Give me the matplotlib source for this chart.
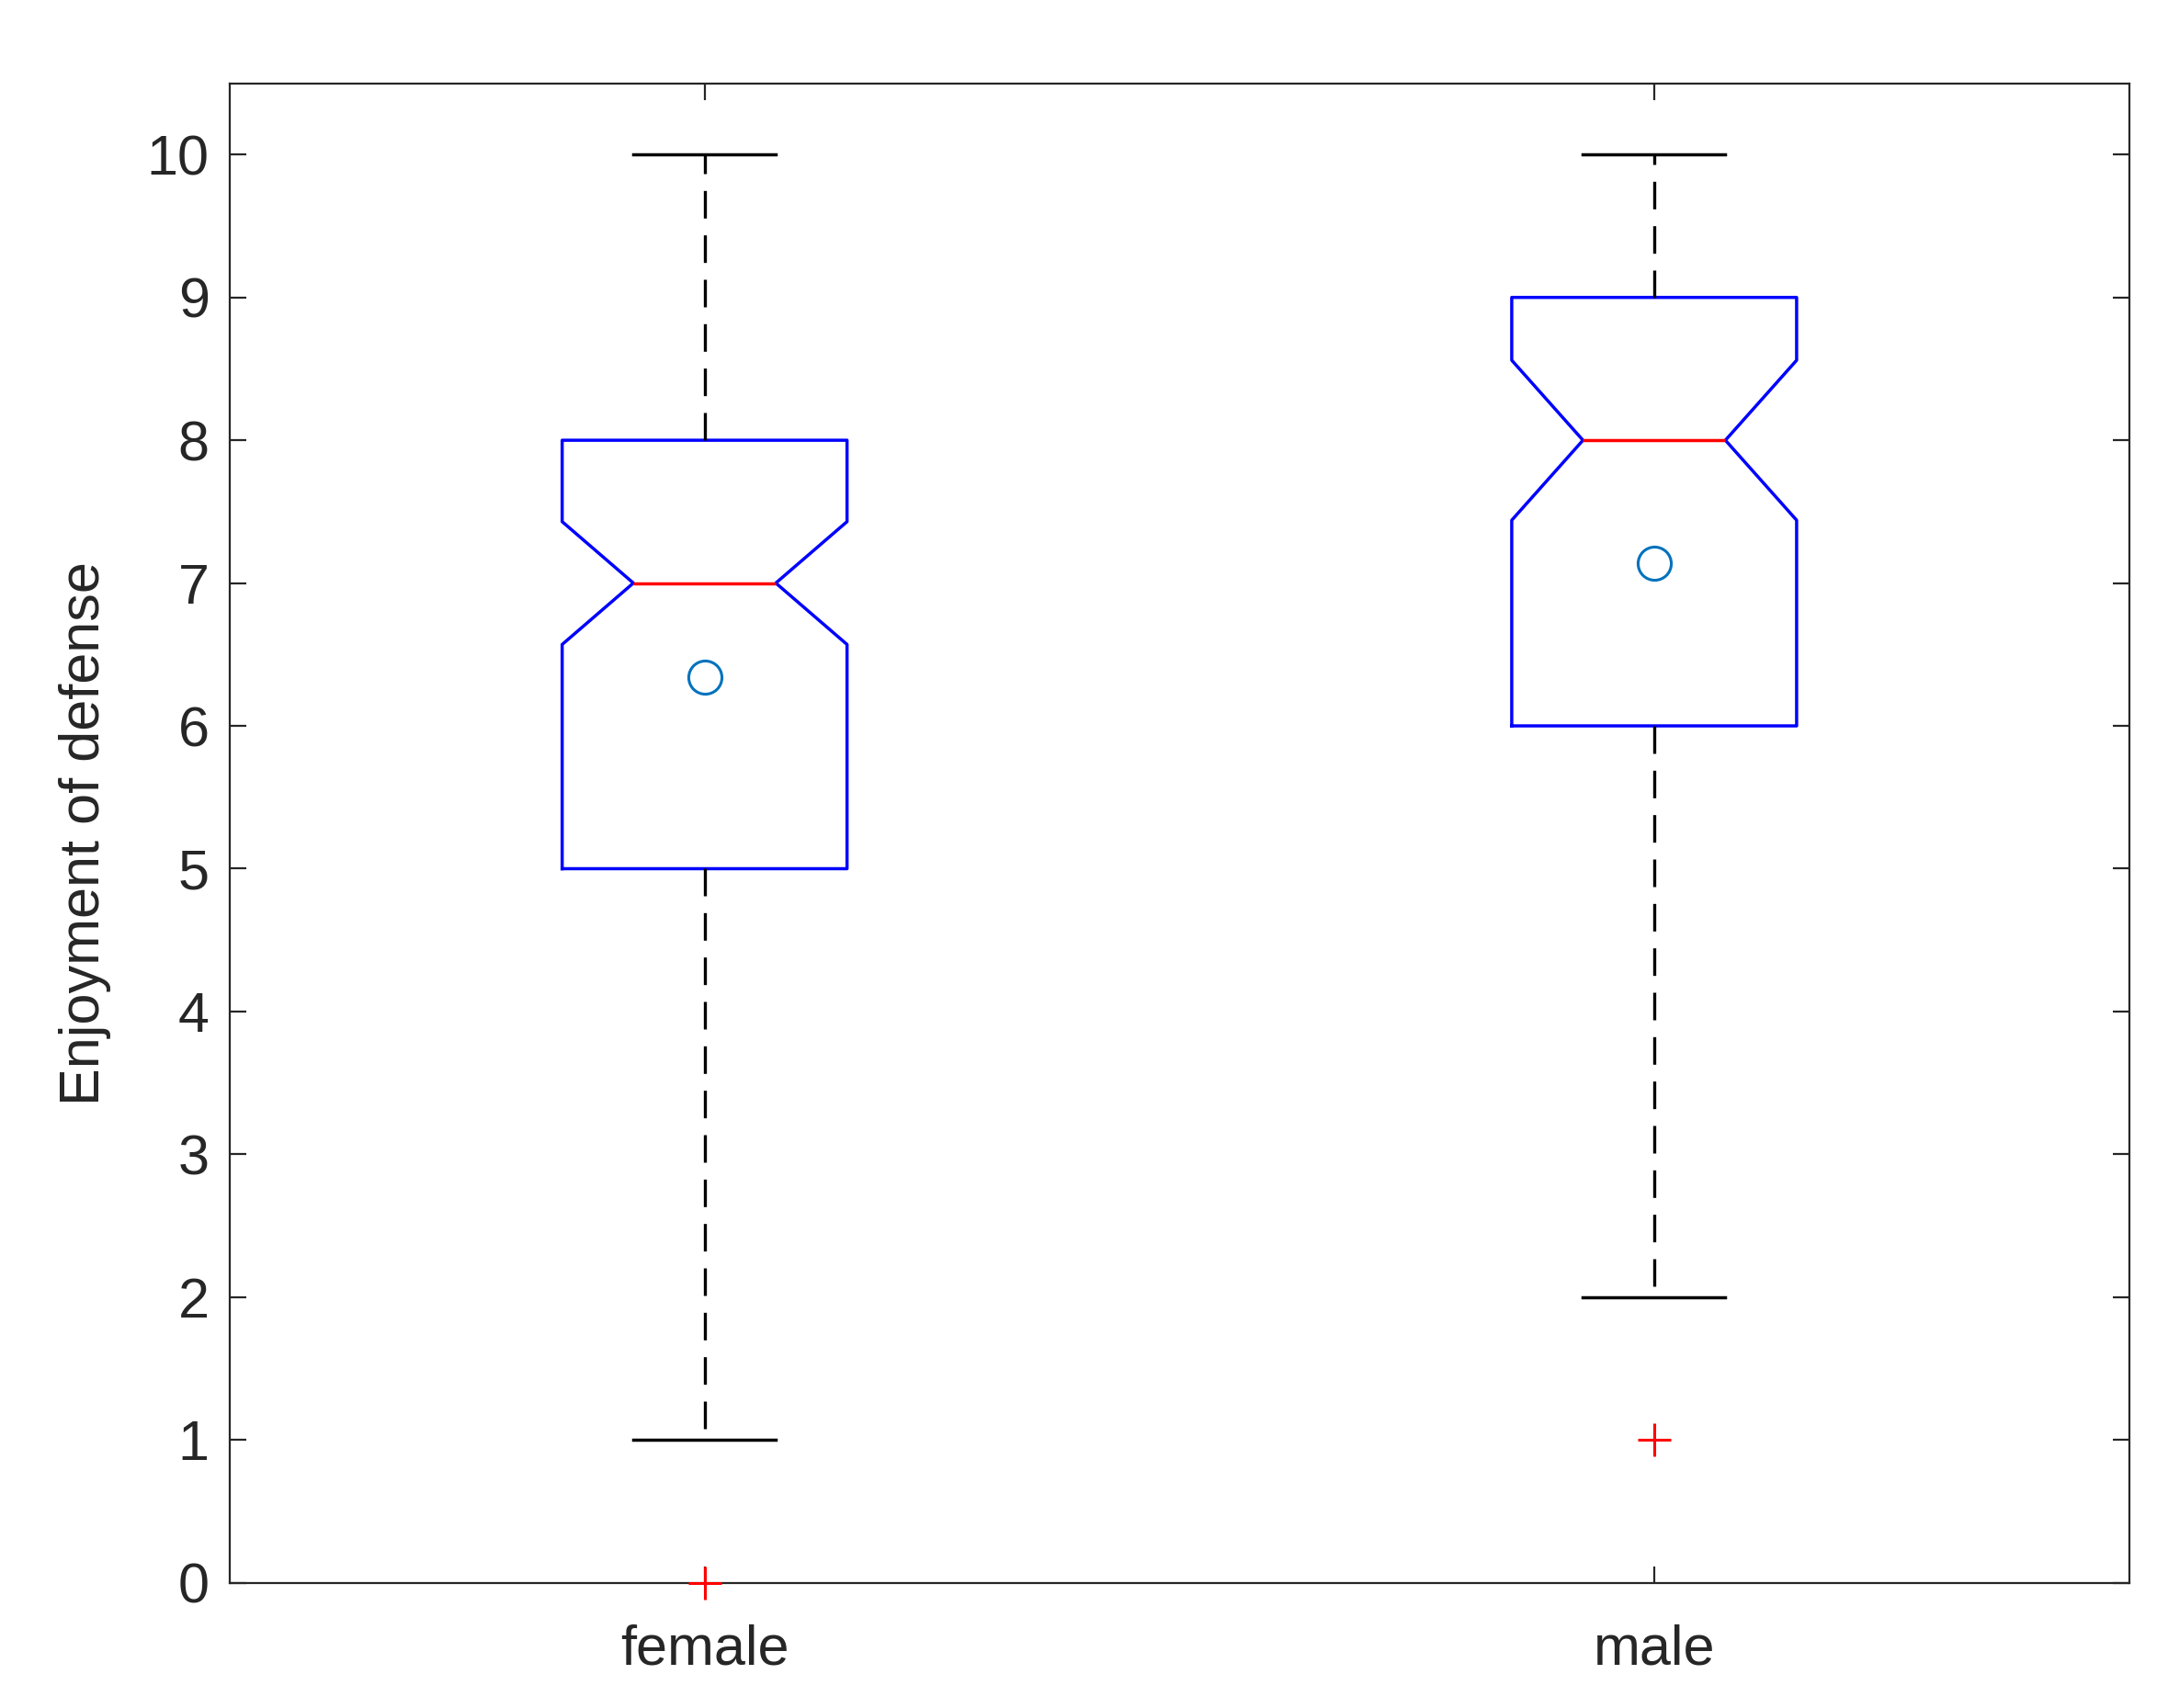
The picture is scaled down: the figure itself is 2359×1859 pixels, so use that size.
import matplotlib
matplotlib.use('Agg')
import matplotlib.pyplot as plt

# Values (notched boxplot, MATLAB style)
GROUPS = ['female', 'male']
POSITIONS = [1, 2]
MEDIANS = [7.0, 8.0]
Q1 = [5.0, 6.0]
Q3 = [8.0, 9.0]
WHISK_LO = [1.0, 2.0]
WHISK_HI = [10.0, 10.0]
NOTCH_LO = [6.57, 7.44]
NOTCH_HI = [7.43, 8.56]
MEANS = [6.34, 7.14]
OUTLIERS = [[0.0], [1.0]]

AX_COLOR = '#262626'
plt.rcParams['font.family'] = ['Liberation Sans', 'DejaVu Sans']

fig = plt.figure(figsize=(11.795, 9.295), dpi=200)
ax = fig.add_axes([0.106, 0.0733, 0.876, 0.878])

stats = []
for i, g in enumerate(GROUPS):
    stats.append({
        'label': g, 'med': MEDIANS[i], 'q1': Q1[i], 'q3': Q3[i],
        'whislo': WHISK_LO[i], 'whishi': WHISK_HI[i],
        'cilo': NOTCH_LO[i], 'cihi': NOTCH_HI[i],
        'mean': MEANS[i], 'fliers': OUTLIERS[i],
    })

parts = ax.bxp(stats, positions=POSITIONS, widths=0.3, capwidths=0.15,
               shownotches=True, showmeans=True, showfliers=True,
               boxprops=dict(color='#0000ff', lw=1.25),
               medianprops=dict(color='#ff0000', lw=1.25),
               whiskerprops=dict(color='black', lw=1.2, ls=(0, (9, 5.5))),
               capprops=dict(color='black', lw=1.25),
               meanprops=dict(marker='o', markerfacecolor='none',
                              markeredgecolor='#0072BD', markersize=13,
                              markeredgewidth=1.1),
               flierprops=dict(marker='+', markeredgecolor='#ff0000',
                               markersize=13, markeredgewidth=1.1),
               manage_ticks=False)
# the female outlier sits on the x axis; don't clip it
for fl in parts['fliers']:
    fl.set_clip_on(False)
    fl.set_zorder(5)

ax.set_xlim(0.5, 2.5)
ax.set_ylim(0, 10.5)
ax.set_xticks(POSITIONS)
ax.set_xticklabels(GROUPS)
ax.set_yticks(range(0, 11))
ax.set_ylabel('Enjoyment of defense', fontsize=22, color=AX_COLOR, labelpad=14)

ax.tick_params(direction='in', length=6.5, width=0.8, colors=AX_COLOR,
               labelsize=22, top=True, right=True, pad=8)
ax.tick_params(axis='x', pad=16)
for sp in ax.spines.values():
    sp.set_color(AX_COLOR)
    sp.set_linewidth(0.8)

fig.savefig('out.png', dpi=200)
